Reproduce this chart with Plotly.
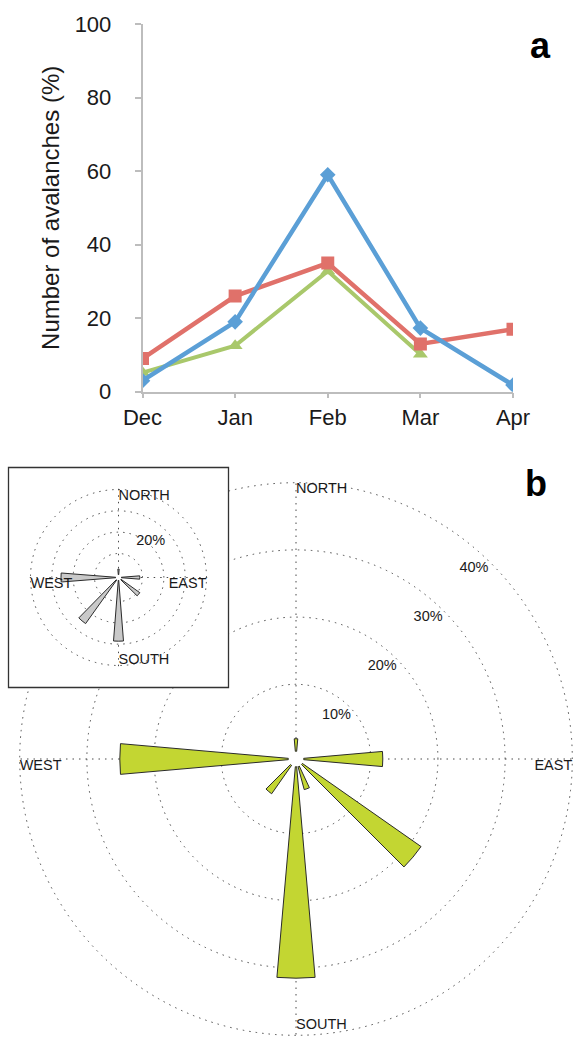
import plotly.graph_objects as go

# ---------------- data ----------------
months = ["Dec", "Jan", "Feb", "Mar", "Apr"]
series_blue = [3, 19, 59, 17.3, 1.8]
series_red = [9, 26, 35, 13, 17]
series_green = [5.2, 12.5, 32.8, 10.2, None]

y_ticks = [0, 20, 40, 60, 80, 100]

directions = ["NORTH", "EAST", "SOUTH", "WEST"]
direction_angles = [0, 90, 180, 270]

main_theta = [0, 90, 130, 160, 180, 220, 270]
main_r = [1.9, 11.8, 21.6, 3.6, 31.5, 5.2, 25.1]

inset_theta = [0, 90, 130, 180, 220, 270]
inset_r = [2.7, 8.7, 11.0, 28.6, 25.3, 25.7]

ring_values = [10, 20, 30, 40]
ring_labels = ["10%", "20%", "30%", "40%"]
inset_ring_values = [20]
inset_ring_labels = ["20%"]

# ---------------- style ----------------
W, H = 576, 1037
FONT = "Liberation Sans, Arial, Helvetica, sans-serif"
BLUE = "#5b9fd6"
RED = "#e0716a"
GREEN = "#a9c86b"
LIME = "#c3d632"
GREY_BAR = "#c9c9c9"
AXIS_GREY = "#bdbdbd"
GRID = "#4a4a4a"
TXT = "#1a1a1a"

fig = go.Figure()

# ---------------- panel a: line chart ----------------
fig.add_trace(go.Scatter(x=months, y=series_green, mode="lines+markers",
                         line=dict(color=GREEN, width=4),
                         marker=dict(symbol="triangle-up", size=13, color=GREEN),
                         showlegend=False, xaxis="x", yaxis="y"))
fig.add_trace(go.Scatter(x=months, y=series_red, mode="lines+markers",
                         line=dict(color=RED, width=4.5),
                         marker=dict(symbol="square", size=13, color=RED),
                         showlegend=False, xaxis="x", yaxis="y"))
fig.add_trace(go.Scatter(x=months, y=series_blue, mode="lines+markers",
                         line=dict(color=BLUE, width=4.5),
                         marker=dict(symbol="diamond", size=12, color=BLUE),
                         showlegend=False, xaxis="x", yaxis="y"))

# ---------------- panel b: main wind rose ----------------
fig.add_trace(go.Barpolar(r=main_r, theta=main_theta, width=10,
                          marker=dict(color=LIME, line=dict(color="#2a2a2a", width=1)),
                          showlegend=False, subplot="polar"))
fig.add_trace(go.Scatterpolar(
    r=[39.0, 40, 38.5, 40], theta=direction_angles, text=directions, mode="text",
    textposition=["middle right", "bottom left", "middle right", "bottom right"],
    textfont=dict(size=14.5, color=TXT, family=FONT), cliponaxis=False,
    showlegend=False, subplot="polar"))
fig.add_trace(go.Scatterpolar(
    r=[v - 2.3 for v in ring_values], theta=[43] * len(ring_values), text=ring_labels,
    mode="text", textposition="middle center",
    textfont=dict(size=14.5, color=TXT, family=FONT), cliponaxis=False,
    showlegend=False, subplot="polar"))

# ---------------- inset box (mask) ----------------
fig.add_trace(go.Scatterpolar(r=[0], theta=[0], mode="markers",
                              marker=dict(symbol="square", size=220, color="white",
                                          line=dict(color="#333333", width=1.3)),
                              cliponaxis=False, showlegend=False, subplot="polar2",
                              hoverinfo="skip"))

# ---------------- inset wind rose ----------------
fig.add_trace(go.Barpolar(r=inset_r, theta=inset_theta, width=9,
                          marker=dict(color=GREY_BAR, line=dict(color="#2a2a2a", width=1)),
                          showlegend=False, subplot="polar3"))
fig.add_trace(go.Scatterpolar(
    r=[37.0, 40, 37.4, 40], theta=direction_angles, text=directions, mode="text",
    textposition=["middle right", "bottom left", "middle right", "bottom right"],
    textfont=dict(size=14.5, color=TXT, family=FONT), cliponaxis=False,
    showlegend=False, subplot="polar3"))
fig.add_trace(go.Scatterpolar(
    r=[v + 1.3 for v in inset_ring_values], theta=[42] * len(inset_ring_values),
    text=inset_ring_labels, mode="text", textposition="middle center",
    textfont=dict(size=14.5, color=TXT, family=FONT), cliponaxis=False,
    showlegend=False, subplot="polar3"))


def rose_axes(hole, rmax):
    dot = "1.5px,5px"
    return dict(
        hole=hole,
        bgcolor="rgba(0,0,0,0)",
        radialaxis=dict(range=[0, rmax], tickvals=ring_values, showticklabels=False,
                        ticks="", showline=False, gridcolor=GRID, gridwidth=1.4,
                        griddash=dot),
        angularaxis=dict(rotation=90, direction="clockwise", tickvals=direction_angles,
                         showticklabels=False, ticks="", showline=False,
                         gridcolor=GRID, gridwidth=1.4, griddash=dot),
    )


main_polar = rose_axes(0.027, 40.25)
main_polar["domain"] = dict(x=[17 / W, 575 / W], y=[0, 556 / H])
inset_polar = rose_axes(0.03, 40.7)
inset_polar["domain"] = dict(x=[29 / W, 208 / W], y=[370 / H, 549 / H])
mask_polar = dict(
    domain=dict(x=[29 / W, 208 / W], y=[370 / H, 549 / H]),
    hole=0, bgcolor="rgba(0,0,0,0)",
    radialaxis=dict(visible=False, range=[0, 1]),
    angularaxis=dict(visible=False),
)

fig.update_layout(
    width=W, height=H,
    margin=dict(l=0, r=0, t=0, b=0),
    paper_bgcolor="white", plot_bgcolor="white",
    font=dict(family=FONT, color=TXT),
    showlegend=False,
    xaxis=dict(domain=[142.5 / W, 513 / W], type="category", range=[0, 4],
               showline=True, linecolor=AXIS_GREY, linewidth=1.5,
               ticks="outside", ticklen=5, tickcolor=AXIS_GREY, tickwidth=1.5,
               showgrid=False, zeroline=False, tickfont=dict(size=22, color=TXT),
               ticklabelstandoff=0, automargin=False, anchor="y"),
    yaxis=dict(domain=[(H - 391.7) / H, (H - 24) / H], range=[0, 100],
               tickvals=y_ticks, showline=True, linecolor=AXIS_GREY, linewidth=1.5,
               ticks="outside", ticklen=6, tickcolor=AXIS_GREY, tickwidth=1.5,
               showgrid=False, zeroline=False, tickfont=dict(size=22, color=TXT),
               ticklabelstandoff=19, automargin=False, anchor="x",
               title=dict(text="Number of avalanches (%)", font=dict(size=24, color=TXT),
                          standoff=8)),
    polar=main_polar,
    polar2=mask_polar,
    polar3=inset_polar,
    annotations=[
        dict(text="<b>a</b>", x=540.5 / W, y=1 - 46 / H, xref="paper", yref="paper",
             showarrow=False, font=dict(size=36, color="black", family=FONT),
             xanchor="center", yanchor="middle"),
        dict(text="<b>b</b>", x=536 / W, y=1 - 484 / H, xref="paper", yref="paper",
             showarrow=False, font=dict(size=36, color="black", family=FONT),
             xanchor="center", yanchor="middle"),
    ],
)

fig.write_html("out.html", config={"displayModeBar": False},
               post_script="document.body.style.margin='0px';")
